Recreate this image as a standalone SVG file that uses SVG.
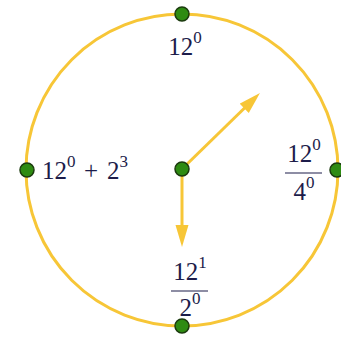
<svg xmlns="http://www.w3.org/2000/svg" width="341" height="338" viewBox="0 0 341 338">
<style>
.ring{fill:none;stroke:#f7c637;stroke-width:3}
.arr{stroke:#f7c637;stroke-width:3;fill:none}
.pt{fill:#2e8b12;stroke:#1b3a0e;stroke-width:1.5}
.t{font-family:"Liberation Serif","Times New Roman",serif;font-size:25px;fill:#1c1c4a}
.s{font-size:17px}
.fl{stroke:#1c1c4a;stroke-width:1.2}
</style>
<defs>
<marker id="ah" markerUnits="userSpaceOnUse" markerWidth="24" markerHeight="14" refX="12" refY="6.5" orient="auto">
<path d="M0,0 L22,6.5 L0,13 Z" fill="#f7c637"/>
</marker>
</defs>
<rect width="341" height="338" fill="#ffffff"/>
<circle class="ring" cx="182" cy="170" r="156"/>
<g id="connectors">
<line class="arr" x1="182" y1="169" x2="252.8" y2="100" marker-end="url(#ah)"/>
<line class="arr" x1="182" y1="169" x2="182" y2="237" marker-end="url(#ah)"/>
</g>
<g id="center"><circle class="pt" cx="182" cy="169" r="7"/></g>
<g id="top">
<circle class="pt" cx="182" cy="14" r="7"/>
<text class="t" x="185" y="55" text-anchor="middle">12<tspan class="s" dy="-12">0</tspan></text>
</g>
<g id="left">
<circle class="pt" cx="27" cy="170" r="7"/>
<text class="t" x="42" y="179">12<tspan class="s" dy="-12">0</tspan><tspan x="84" dy="12">+</tspan><tspan x="107">2</tspan><tspan class="s" dy="-12">3</tspan></text>
</g>
<g id="right">
<circle class="pt" cx="337" cy="170" r="7"/>
<text class="t" x="304" y="162" text-anchor="middle">12<tspan class="s" dy="-12">0</tspan></text>
<line class="fl" x1="285" y1="173" x2="322" y2="173"/>
<text class="t" x="304" y="200" text-anchor="middle">4<tspan class="s" dy="-12">0</tspan></text>
</g>
<g id="bottom">
<circle class="pt" cx="182" cy="326" r="7"/>
<text class="t" x="190" y="280" text-anchor="middle">12<tspan class="s" dy="-12">1</tspan></text>
<line class="fl" x1="171" y1="291" x2="208" y2="291"/>
<text class="t" x="190" y="316" text-anchor="middle">2<tspan class="s" dy="-12">0</tspan></text>
</g>
</svg>
